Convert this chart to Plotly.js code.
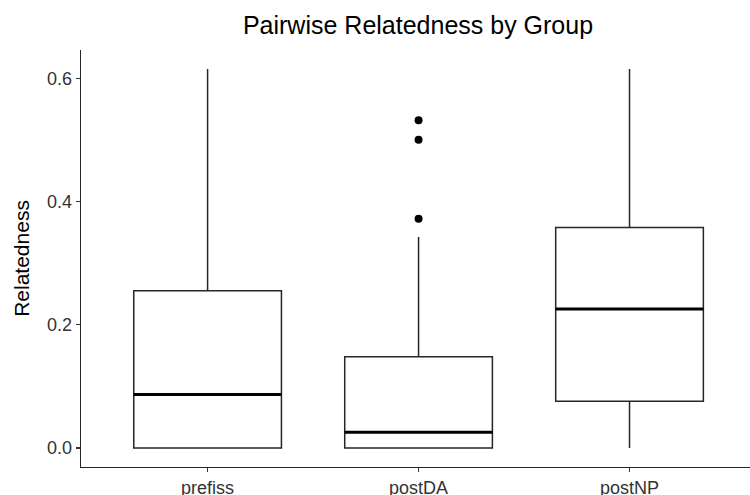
<!DOCTYPE html>
<html>
<head>
<meta charset="utf-8">
<script src="https://cdn.plot.ly/plotly-3.0.1.min.js"></script>
<style>html,body{margin:0;padding:0;background:#fff;}#chart{width:750px;height:495px;}</style>
</head>
<body>
<div id="chart"></div>
<script>
// Data
const categories = ['prefiss', 'postDA', 'postNP'];
const lowerWhisker = [0.0, 0.0, 0.0];
const q1Values = [0.0, 0.0, 0.076];
const medianValues = [0.087, 0.0255, 0.2255];
const q3Values = [0.255, 0.148, 0.358];
const upperWhisker = [0.615, 0.3425, 0.615];
const outlierGroups = ['postDA', 'postDA', 'postDA'];
const outlierValues = [0.372, 0.500, 0.532];
const yTickVals = [0.0, 0.2, 0.4, 0.6];
const yTickText = ['0.0', '0.2', '0.4', '0.6'];

const FONT = 'Liberation Sans, Arial, Helvetica, sans-serif';

const boxTrace = {
  type: 'box',
  x: categories,
  q1: q1Values,
  median: medianValues,
  q3: q3Values,
  lowerfence: lowerWhisker,
  upperfence: upperWhisker,
  boxpoints: false,
  width: 0.7,
  whiskerwidth: 0,
  fillcolor: '#ffffff',
  line: {color: '#262626', width: 1.5},
  hoverinfo: 'skip',
  showlegend: false
};

// thick median line, drawn as a flat box at each median
const medianTrace = {
  type: 'box',
  x: categories,
  q1: medianValues,
  median: medianValues,
  q3: medianValues,
  lowerfence: medianValues,
  upperfence: medianValues,
  boxpoints: false,
  width: 0.7,
  whiskerwidth: 0,
  fillcolor: 'rgba(0,0,0,0)',
  line: {color: '#000000', width: 3},
  hoverinfo: 'skip',
  showlegend: false
};

const outlierTrace = {
  type: 'scatter',
  mode: 'markers',
  x: outlierGroups,
  y: outlierValues,
  marker: {color: '#000000', size: 8},
  hoverinfo: 'skip',
  showlegend: false
};

const layout = {
  width: 750,
  height: 495,
  margin: {l: 81, r: 0, t: 50, b: 28, pad: 0},
  paper_bgcolor: '#ffffff',
  plot_bgcolor: '#ffffff',
  font: {family: FONT, color: '#000000'},
  showlegend: false,
  boxmode: 'overlay',
  title: {
    text: 'Pairwise Relatedness by Group',
    font: {family: FONT, size: 25, color: '#000000'},
    xref: 'container', x: 418 / 750, xanchor: 'center',
    yref: 'container', y: 1 - 25 / 495, yanchor: 'middle'
  },
  xaxis: {
    type: 'category',
    categoryarray: categories,
    categoryorder: 'array',
    range: [-0.6, 2.571],
    showgrid: false,
    zeroline: false,
    showline: true,
    linecolor: '#262626',
    linewidth: 1.4,
    ticks: 'outside',
    ticklen: 4,
    tickwidth: 1.3,
    tickcolor: '#333333',
    tickfont: {family: FONT, size: 18, color: '#333333'}
  },
  yaxis: {
    range: [-0.0308, 0.6458],
    tickvals: yTickVals,
    ticktext: yTickText,
    showgrid: false,
    zeroline: false,
    showline: true,
    linecolor: '#262626',
    linewidth: 1.4,
    ticks: 'outside',
    ticklen: 4,
    tickwidth: 1.3,
    tickcolor: '#333333',
    tickfont: {family: FONT, size: 18, color: '#333333'},
    title: {text: 'Relatedness', font: {family: FONT, size: 21, color: '#000000'}}
  }
};

Plotly.newPlot('chart', [boxTrace, medianTrace, outlierTrace], layout, {displayModeBar: false, staticPlot: true});
</script>
</body>
</html>
